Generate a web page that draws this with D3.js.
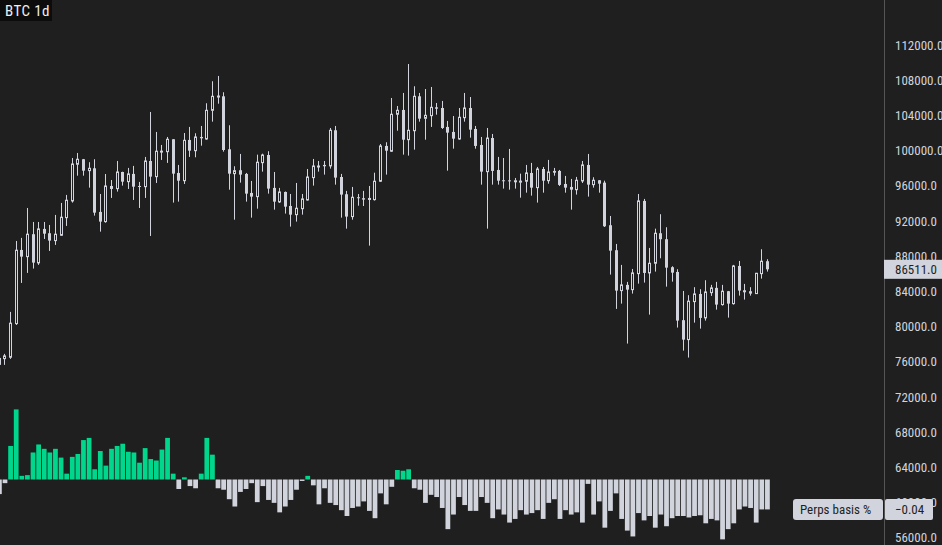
<!DOCTYPE html>
<html><head><meta charset="utf-8">
<script src="https://cdn.jsdelivr.net/npm/d3@7"></script>
<style>
html,body{margin:0;padding:0;background:#1f1f1f;overflow:hidden}
svg{display:block}
</style></head>
<body>
<svg id="chart" width="942" height="545"></svg>
<script>
// ---- data (daily candles, BTC) ----
const startDate = "2024-11-08";
const endDate = "2025-03-26"; // exclusive
const open = [76440,76360,76520,80340,88710,87950,90500,87240,91100,90610,89770,90380,92380,94280,98450,99020,97720,97990,93030,91930,95980,95680,97570,96470,97350,95980,95900,98820,97040,99900,99880,101290,97460,96580,101210,99990,101550,101320,104580,106150,106170,100150,97380,97770,97350,95190,94770,98630,99500,95760,94170,95300,93710,92720,93400,94390,96930,98200,98370,98260,102310,97000,95040,92500,94700,94590,94620,94430,96520,100530,99930,104130,104620,101240,102260,106170,103670,103970,104920,104840,102690,102120,101320,103740,104840,102460,100640,97610,101430,97800,96630,96620,96550,96500,96520,97460,95790,97910,96580,97690,97690,96210,95870,95560,96550,98370,96130,96630,96360,91520,88680,84090,84740,84200,86020,94280,86100,87200,90610,89930,86750,86210,80730,78520,82840,83710,80990,83860,84400,82500,84020,82610,86890,84130,84020,83750,86020,87430];
const high = [76600,76900,81670,89730,90080,93480,91890,91890,91890,91550,92690,94050,94960,99160,99730,99050,98680,99020,95070,97340,96660,98820,97600,98030,98260,96440,99280,104390,102120,100640,101550,101300,98370,102000,102690,101970,102800,105380,107880,108480,106630,102880,98220,99620,97460,96550,99540,99650,99930,97570,95760,95350,95070,96320,95070,97910,99050,98820,98820,102570,102800,97350,95420,95870,95070,95420,95980,97490,100750,100950,105980,105070,106550,109840,107310,106550,107000,107230,105410,105640,103370,103930,104840,106550,106090,102800,101550,102570,101890,99280,99160,100190,96890,97380,98370,98600,98140,98140,98940,98030,97800,97120,96780,97010,98820,99620,96970,96650,96580,92570,89390,87010,85080,86550,95070,94510,88940,91130,92770,91290,86860,86520,84050,83570,84480,84250,85270,84740,85080,84740,84050,87010,87460,84850,84480,86100,88790,87660];
const low = [75500,75650,76330,80190,84960,86100,86590,87010,89960,88600,89280,90300,91440,94090,97150,97150,95790,92610,90790,91810,94620,95340,96020,95640,94390,93480,94620,90300,96320,98940,98600,94090,94200,96210,99280,99240,100560,101240,103290,105330,99880,95560,92150,96360,94200,92380,93400,97610,95110,93290,94050,92840,91360,91930,92720,94320,96020,97610,97270,97950,96130,92380,91130,92150,93740,93700,89200,94320,96440,97270,99850,102260,99540,99430,100110,103290,101240,102690,104080,102460,97720,100220,101240,103290,101470,100220,96130,91130,96130,96130,95680,95560,95680,94650,95220,94880,94090,95220,96240,97150,95980,95220,93290,95000,96320,94770,95790,95220,91320,85910,82010,82610,78070,83750,84880,85000,81360,86250,87760,84540,85110,79890,77270,76480,80450,79770,80680,83490,81930,82390,81020,82500,83520,83070,83520,83710,85450,86250];
const close = [75650,76670,80390,88680,87950,90500,87270,91100,90560,89770,90500,92430,94360,98480,99020,97720,97990,92950,91930,95980,95640,97570,96470,97350,95900,95930,98820,97040,99930,99940,101290,97380,96580,101170,99990,101550,101400,104580,106170,106200,100070,97380,97720,97270,95110,94770,98680,99500,95680,94200,95300,93630,92720,93450,94510,97000,98250,98250,98220,102310,96930,95000,92500,94700,94590,94430,94390,96520,100530,99990,104130,104580,101240,102310,106170,103630,104010,104920,104760,102570,102040,101360,103790,104840,102380,100530,97610,101430,97690,96580,96600,96560,96570,96530,97460,95790,97910,96580,97570,97490,96100,95790,95560,96630,98370,96130,96630,96240,91400,88630,84090,84740,84200,86100,94280,86100,87200,90610,89930,86700,86130,80680,78520,82890,83710,80990,83940,84400,82500,84020,82610,86890,84090,83900,83750,86060,87430,86511];
const basis = [-0.020,-0.005,0.046,0.096,0.005,0.006,0.037,0.048,0.042,0.037,0.042,0.030,0.008,0.031,0.035,0.054,0.057,0.014,0.039,0.019,0.042,0.046,0.049,0.038,0.037,0.023,0.043,0.028,0.026,0.041,0.057,0.008,-0.013,0.003,-0.009,-0.012,0.008,0.057,0.034,-0.012,-0.014,-0.027,-0.037,-0.017,-0.013,-0.005,-0.031,-0.009,-0.028,-0.032,-0.045,-0.037,-0.028,-0.014,-0.002,0.005,-0.008,-0.034,-0.012,-0.032,-0.035,-0.042,-0.050,-0.039,-0.037,-0.030,-0.043,-0.053,-0.019,-0.034,-0.010,0.013,0.012,0.014,-0.012,-0.014,-0.032,-0.021,-0.024,-0.039,-0.068,-0.048,-0.024,-0.035,-0.043,-0.043,-0.024,-0.032,-0.053,-0.041,-0.048,-0.059,-0.054,-0.042,-0.048,-0.046,-0.042,-0.054,-0.032,-0.027,-0.054,-0.042,-0.048,-0.045,-0.059,-0.006,-0.048,-0.030,-0.066,-0.043,-0.019,-0.054,-0.070,-0.078,-0.046,-0.056,-0.050,-0.066,-0.048,-0.064,-0.053,-0.050,-0.050,-0.052,-0.050,-0.049,-0.060,-0.054,-0.056,-0.082,-0.068,-0.060,-0.041,-0.037,-0.039,-0.059,-0.041,-0.041];
const priceTicks = [56000,60000,64000,68000,72000,76000,80000,84000,88000,92000,96000,100000,104000,108000,112000];
const title = "BTC 1d";
const basisName = "Perps basis %";

// ---- drawing ----
const W = 942, H = 545;
const BG = "#1f1f1f", FG = "#d1d4dc", GREEN = "#00d68c";
const FONT = "'Liberation Sans Narrow','Roboto Condensed',Roboto,sans-serif";
const svg = d3.select("#chart");
svg.append("rect").attr("width", W).attr("height", H).attr("fill", BG);

const parse = d3.utcParse("%Y-%m-%d");
const dates = d3.utcDay.range(parse(startDate), parse(endDate));
const rows = dates.map((d, i) => ({date: d, o: open[i], h: high[i], l: low[i], c: close[i], b: basis[i]}));

const x = d3.scaleBand().domain(dates).range([-3, 769.8]).paddingInner(0.15).paddingOuter(0);
const y = d3.scaleLinear().domain([56000, 112000]).range([537.8, 45]);
const yb = d3.scaleLinear().domain([-0.04, 0]).range([508.7, 479.5]);
const cx = d => Math.floor(x(d) + x.bandwidth() / 2);

// basis bars
svg.append("g").selectAll("rect").data(rows).join("rect")
  .attr("x", d => x(d.date))
  .attr("width", x.bandwidth())
  .attr("y", d => d.b >= 0 ? yb(d.b) : yb(0))
  .attr("height", d => Math.max(1, Math.abs(yb(d.b) - yb(0))))
  .attr("fill", d => d.b >= 0 ? GREEN : FG);

// candles
const cg = svg.append("g");
cg.selectAll("line").data(rows).join("line")
  .attr("x1", d => cx(d.date) + 0.5).attr("x2", d => cx(d.date) + 0.5)
  .attr("y1", d => y(d.h)).attr("y2", d => y(d.l))
  .attr("stroke", FG).attr("stroke-width", 1);
cg.selectAll("rect").data(rows).join("rect")
  .attr("x", d => d.c >= d.o ? cx(d.date) - 0.5 : cx(d.date) - 1)
  .attr("width", d => d.c >= d.o ? 2 : 3)
  .attr("y", d => y(Math.max(d.o, d.c)))
  .attr("height", d => Math.max(1, Math.abs(y(d.o) - y(d.c))))
  .attr("fill", d => d.c >= d.o ? BG : FG)
  .attr("stroke", d => d.c >= d.o ? FG : "none")
  .attr("stroke-width", 1);

// right axis
svg.append("line").attr("x1", 884.5).attr("x2", 884.5).attr("y1", 0).attr("y2", H)
  .attr("stroke", "#555").attr("stroke-width", 1);
svg.append("g").selectAll("text").data(priceTicks).join("text")
  .attr("x", 895).attr("y", d => y(d)).attr("dy", "0.35em")
  .attr("fill", FG).attr("font-family", FONT).attr("font-size", 13)
  .text(d => d3.format(".1f")(d));

// last price label
const last = rows[rows.length - 1];
svg.append("rect").attr("x", 884).attr("y", y(last.c) - 9.5).attr("width", 58).attr("height", 19).attr("fill", FG);
svg.append("text").attr("x", 895).attr("y", y(last.c)).attr("dy", "0.35em")
  .attr("fill", "#1f1f1f").attr("font-family", FONT).attr("font-size", 13)
  .text(d3.format(".1f")(last.c));

// basis labels
const by = yb(last.b);
svg.append("rect").attr("x", 793).attr("y", by - 10.5).attr("width", 90).attr("height", 21).attr("rx", 3).attr("fill", FG);
svg.append("text").attr("x", 800).attr("y", by).attr("dy", "0.35em")
  .attr("fill", "#1f1f1f").attr("font-family", FONT).attr("font-size", 13).text(basisName);
svg.append("rect").attr("x", 885).attr("y", by - 10.5).attr("width", 48).attr("height", 21).attr("rx", 2).attr("fill", FG);
svg.append("text").attr("x", 895).attr("y", by).attr("dy", "0.35em")
  .attr("fill", "#1f1f1f").attr("font-family", FONT).attr("font-size", 13)
  .text(d3.format(".2f")(last.b).replace("-", "\u2212"));

// title
svg.append("rect").attr("x", 0).attr("y", 0).attr("width", 52).attr("height", 21).attr("fill", "#0c0c0c");
svg.append("text").attr("x", 5).attr("y", 11).attr("dy", "0.35em")
  .attr("fill", "#f0f0f0").attr("font-family", FONT).attr("font-size", 15)
  .attr("letter-spacing", 0.4).text(title);
</script>
</body></html>
